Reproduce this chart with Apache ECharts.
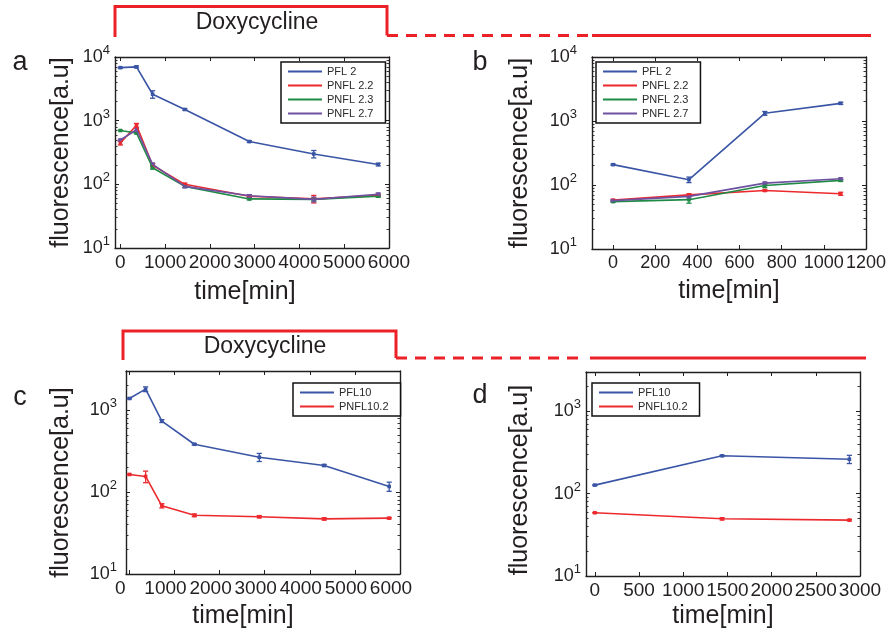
<!DOCTYPE html>
<html>
<head>
<meta charset="utf-8">
<script src="https://cdn.jsdelivr.net/npm/echarts@6/dist/echarts.min.js"></script>
<style>
  html, body { margin: 0; padding: 0; background: #fff; }
  #chart { width: 888px; height: 635px; }
</style>
</head>
<body>
<div id="chart"></div>
<script>
// ---- Data: fluorescence time courses (log scale) ----
// Panel a: during doxycycline
const timeA = [0, 360, 720, 1440, 2880, 4320, 5760];
const pfl2A = [6800, 7000, 2600, 1500, 470, 300, 205];
const pfl2AErr = [150, 250, 350, 40, 15, 40, 10];
const pnfl22A = [445, 845, 199, 100, 65, 59, 67];
const pnfl22AErr = [30, 60, 10, 4, 3, 8, 3];
const pnfl23A = [700, 640, 182, 93, 59, 58, 65];
const pnfl23AErr = [10, 20, 8, 3, 2, 3, 2];
const pnfl27A = [497, 720, 206, 93, 66, 58, 70];
const pnfl27AErr = [15, 40, 10, 5, 3, 5, 3];

// Panel b: after doxycycline removal
const timeB = [0, 360, 720, 1080];
const pfl2B = [208, 121, 1318, 1888];
const pfl2BErr = [5, 12, 90, 70];
const pnfl22B = [58, 70, 82, 73];
const pnfl22BErr = [1.5, 3, 2, 4];
const pnfl23B = [55, 59, 98, 118];
const pnfl23BErr = [1.5, 7, 7, 4];
const pnfl27B = [57, 66.5, 107, 125];
const pnfl27BErr = [1.5, 4, 4, 4];

// Panel c: during doxycycline
const timeC = [0, 360, 720, 1440, 2880, 4320, 5760];
const pfl10C = [1386, 1800, 735, 383, 266, 211, 117];
const pfl10CErr = [20, 120, 30, 8, 30, 6, 15];
const pnfl102C = [164, 155, 68, 52, 50, 47, 48];
const pnfl102CErr = [2, 25, 4, 2, 1.5, 1.5, 1];

// Panel d: after doxycycline removal
const timeD = [0, 1440, 2880];
const pfl10D = [127, 288, 262];
const pfl10DErr = [2, 5, 30];
const pnfl102D = [58.6, 49.5, 47.7];
const pnfl102DErr = [0.5, 1.5, 1];

// Tick labels
const xTicksA = [0, 1000, 2000, 3000, 4000, 5000, 6000];
const xTicksB = [0, 200, 400, 600, 800, 1000, 1200];
const xTicksC = [0, 1000, 2000, 3000, 4000, 5000, 6000];
const xTicksD = [0, 500, 1000, 1500, 2000, 2500, 3000];
const yMinorTicks = [20, 30, 40, 50, 60, 70, 80, 90, 200, 300, 400, 500, 600, 700, 800, 900,
                     2000, 3000, 4000, 5000, 6000, 7000, 8000, 9000];

const namesTop = ['PFL 2', 'PNFL 2.2', 'PNFL 2.3', 'PNFL 2.7'];
const namesBottom = ['PFL10', 'PNFL10.2'];

// ---- Styling ----
const FONT = "'Liberation Sans', Arial, Helvetica, sans-serif";
const INK = '#231f20';
const BLUE = '#3a55a5';
const RED = '#ec2a2e';
const GREEN = '#1f8a45';
const PURPLE = '#6f51a1';
const DOXY = '#ec2027';

const panels = [
  { grid: { left: 115, top: 57, width: 274, height: 191 }, xMin: -120, xMax: 6000, ticks: xTicksA,
    yMax: 10000, labelMargin: 5, yNameGap: 41, yNamePad: [0, 0, 0, 0], xNameGap: 32, xNamePad: [0, 14, 0, 0], xLabelPad: [0, 0, 0, 0], xLabelSize: 19,
    series: [
      { name: namesTop[0], t: timeA, v: pfl2A, e: pfl2AErr, color: BLUE },
      { name: namesTop[1], t: timeA, v: pnfl22A, e: pnfl22AErr, color: RED },
      { name: namesTop[2], t: timeA, v: pnfl23A, e: pnfl23AErr, color: GREEN },
      { name: namesTop[3], t: timeA, v: pnfl27A, e: pnfl27AErr, color: PURPLE }
    ] },
  { grid: { left: 592, top: 57, width: 274, height: 192 }, xMin: -100, xMax: 1200, ticks: xTicksB,
    yMax: 10000, labelMargin: 15, yNameGap: 59, yNamePad: [0, 0, 0, 0], xNameGap: 30, xNamePad: [0, 0, 0, 0], xLabelPad: [0, 0, 0, 0], xLabelSize: 18,
    series: [
      { name: namesTop[0], t: timeB, v: pfl2B, e: pfl2BErr, color: BLUE },
      { name: namesTop[1], t: timeB, v: pnfl22B, e: pnfl22BErr, color: RED },
      { name: namesTop[2], t: timeB, v: pnfl23B, e: pnfl23BErr, color: GREEN },
      { name: namesTop[3], t: timeB, v: pnfl27B, e: pnfl27BErr, color: PURPLE }
    ] },
  { grid: { left: 126, top: 371, width: 274, height: 203 }, xMin: -75, xMax: 6000, ticks: xTicksC,
    yMax: 3000, labelMargin: 9, yNameGap: 52, yNamePad: [0, 20, 0, 0], xNameGap: 30, xNamePad: [0, 40, 0, 0], xLabelPad: [0, 18, 0, 0], xLabelSize: 19,
    series: [
      { name: namesBottom[0], t: timeC, v: pfl10C, e: pfl10CErr, color: BLUE },
      { name: namesBottom[1], t: timeC, v: pnfl102C, e: pnfl102CErr, color: RED }
    ] },
  { grid: { left: 586, top: 372, width: 274, height: 204 }, xMin: -100, xMax: 3000, ticks: xTicksD,
    yMax: 3000, labelMargin: 5, yNameGap: 53, yNamePad: [0, 12, 0, 0], xNameGap: 28, xNamePad: [0, 0, 0, 0], xLabelPad: [0, 0, 0, 0], xLabelSize: 19,
    series: [
      { name: namesBottom[0], t: timeD, v: pfl10D, e: pfl10DErr, color: BLUE },
      { name: namesBottom[1], t: timeD, v: pnfl102D, e: pnfl102DErr, color: RED }
    ] }
];

function powerLabel(value) {
  const ex = Math.log10(value);
  const r = Math.round(ex);
  if (Math.abs(ex - r) > 1e-6) return '';
  return '{b|10}{s|' + r + '}';
}

const frameLine = { show: true, onZero: false, lineStyle: { color: INK, width: 1.4 } };
const majorTick = { show: true, inside: true, length: 4, lineStyle: { color: INK, width: 1 } };

const grids = [], xAxes = [], yAxes = [], series = [];

panels.forEach((p, i) => {
  grids.push(Object.assign({ show: false, outerBoundsMode: 'none', containLabel: false }, p.grid));
  // bottom axis with labels and title
  xAxes.push({
    gridIndex: i, type: 'value', position: 'bottom', min: p.xMin, max: p.xMax,
    axisLine: frameLine,
    axisTick: Object.assign({ customValues: p.ticks }, majorTick),
    axisLabel: {
      customValues: p.ticks, margin: 5, color: INK, fontSize: p.xLabelSize, fontFamily: FONT, padding: p.xLabelPad,
      showMinLabel: true, showMaxLabel: true, hideOverlap: false,
      formatter: v => String(v)
    },
    splitLine: { show: false },
    name: 'time[min]', nameLocation: 'middle', nameGap: p.xNameGap,
    nameTextStyle: { color: INK, fontSize: 25, fontFamily: FONT, padding: p.xNamePad }
  });
  // top mirror axis
  xAxes.push({
    gridIndex: i, type: 'value', position: 'top', min: p.xMin, max: p.xMax,
    axisLine: frameLine,
    axisTick: Object.assign({ customValues: p.ticks }, majorTick),
    axisLabel: { show: false }, splitLine: { show: false }
  });
  // left log axis (decade ticks + labels)
  const yBase = {
    gridIndex: i, type: 'log', logBase: 10, min: 10, max: p.yMax,
    axisLine: frameLine, axisTick: majorTick, splitLine: { show: false }
  };
  yAxes.push(Object.assign({}, yBase, {
    position: 'left',
    axisLabel: {
      margin: p.labelMargin, formatter: powerLabel, fontFamily: FONT, color: INK,
      showMinLabel: true, showMaxLabel: true, hideOverlap: false,
      rich: {
        b: { fontSize: 18, fontFamily: FONT, color: INK },
        s: { fontSize: 13, fontFamily: FONT, color: INK, padding: [0, 0, 13, 0] }
      }
    },
    name: 'fluorescence[a.u]', nameLocation: 'middle', nameRotate: 90, nameGap: p.yNameGap,
    nameTextStyle: { color: INK, fontSize: 25, fontFamily: FONT, padding: p.yNamePad }
  }));
  // right mirror log axis
  yAxes.push(Object.assign({}, yBase, { position: 'right', axisLabel: { show: false } }));
  // minor log ticks, left and right
  ['left', 'right'].forEach(pos => {
    yAxes.push(Object.assign({}, yBase, {
      position: pos,
      axisLine: { show: false, onZero: false },
      axisTick: { show: true, inside: true, length: 2.5, customValues: yMinorTicks.filter(v => v < p.yMax),
                  lineStyle: { color: INK, width: 0.9 } },
      axisLabel: { show: false }
    }));
  });

  p.series.forEach(s => {
    series.push({
      type: 'line', name: s.name, xAxisIndex: 2 * i, yAxisIndex: 4 * i,
      data: s.t.map((t, k) => [t, s.v[k]]),
      symbol: 'none', color: s.color,
      lineStyle: { color: s.color, width: 1.6 },
      animation: false
    });
  });
  p.series.forEach(s => {
    series.push({
      type: 'custom', name: s.name, xAxisIndex: 2 * i, yAxisIndex: 4 * i,
      data: s.t.map((t, k) => [t, s.v[k] - s.e[k], s.v[k] + s.e[k], s.v[k]]),
      encode: { x: 0, y: [1, 2] },
      itemStyle: { color: s.color },
      renderItem: function (params, api) {
        const x = api.value(0);
        const lo = api.coord([x, api.value(1)]);
        const hi = api.coord([x, api.value(2)]);
        const pt = api.coord([x, api.value(3)]);
        const c = api.visual('color');
        const w = 2.6;
        const st = { stroke: c, lineWidth: 1.3 };
        return {
          type: 'group',
          children: [
            { type: 'line', shape: { x1: lo[0], y1: lo[1], x2: hi[0], y2: hi[1] }, style: st },
            { type: 'line', shape: { x1: lo[0] - w, y1: lo[1], x2: lo[0] + w, y2: lo[1] }, style: st },
            { type: 'line', shape: { x1: hi[0] - w, y1: hi[1], x2: hi[0] + w, y2: hi[1] }, style: st },
            { type: 'rect', shape: { x: pt[0] - 1.8, y: pt[1] - 1.8, width: 3.6, height: 3.6 }, style: { fill: c } }
          ]
        };
      },
      animation: false
    });
  });
});

// plain line swatch for legend entries
const LINE_ICON = 'path://M0,0 L34,0 L34,2 L0,2 Z';

function legendBox(names, left, top) {
  return {
    data: names.map(n => ({ name: n, icon: LINE_ICON })),
    left: left, top: top, orient: 'vertical',
    itemWidth: 34, itemHeight: 10, itemGap: 3,
    padding: [4, 12, 4, 7],
    borderColor: '#111', borderWidth: 1.5, backgroundColor: '#fff',
    textStyle: { fontSize: 11, color: '#2a2a2a', fontFamily: FONT },
    selectedMode: false
  };
}

// Treatment brackets, panel letters
const red3 = { stroke: DOXY, lineWidth: 3, fill: null };
const graphics = [
  { type: 'polyline', shape: { points: [[115, 37], [115, 6.5], [387, 6.5], [387, 35.5]] }, style: red3 },
  { type: 'line', shape: { x1: 387, y1: 35.5, x2: 592, y2: 35.5 }, style: Object.assign({ lineDash: [11, 8] }, red3) },
  { type: 'line', shape: { x1: 592, y1: 35.5, x2: 871, y2: 35.5 }, style: red3 },
  { type: 'text', style: { x: 257, y: 23, text: 'Doxycycline', font: '23px ' + FONT, fill: INK, textAlign: 'center', textVerticalAlign: 'middle' } },

  { type: 'polyline', shape: { points: [[123, 360], [123, 331], [396, 331], [396, 358]] }, style: red3 },
  { type: 'line', shape: { x1: 396, y1: 358, x2: 581, y2: 358 }, style: Object.assign({ lineDash: [11, 8] }, red3) },
  { type: 'line', shape: { x1: 590, y1: 358, x2: 866, y2: 358 }, style: red3 },
  { type: 'text', style: { x: 265, y: 347, text: 'Doxycycline', font: '23px ' + FONT, fill: INK, textAlign: 'center', textVerticalAlign: 'middle' } },

  { type: 'text', style: { x: 20, y: 63, text: 'a', font: '27px ' + FONT, fill: INK, textAlign: 'center', textVerticalAlign: 'middle' } },
  { type: 'text', style: { x: 480, y: 63, text: 'b', font: '27px ' + FONT, fill: INK, textAlign: 'center', textVerticalAlign: 'middle' } },
  { type: 'text', style: { x: 20, y: 398, text: 'c', font: '27px ' + FONT, fill: INK, textAlign: 'center', textVerticalAlign: 'middle' } },
  { type: 'text', style: { x: 480, y: 396, text: 'd', font: '27px ' + FONT, fill: INK, textAlign: 'center', textVerticalAlign: 'middle' } }
];

const chart = echarts.init(document.getElementById('chart'), null, { renderer: 'canvas' });
chart.setOption({
  animation: false,
  backgroundColor: '#fff',
  textStyle: { fontFamily: FONT },
  grid: grids,
  xAxis: xAxes,
  yAxis: yAxes,
  legend: [
    legendBox(namesTop, 281, 62),
    legendBox(namesTop, 596, 62),
    legendBox(namesBottom, 293, 383),
    legendBox(namesBottom, 592, 383)
  ],
  series: series,
  graphic: graphics
});
</script>
</body>
</html>
